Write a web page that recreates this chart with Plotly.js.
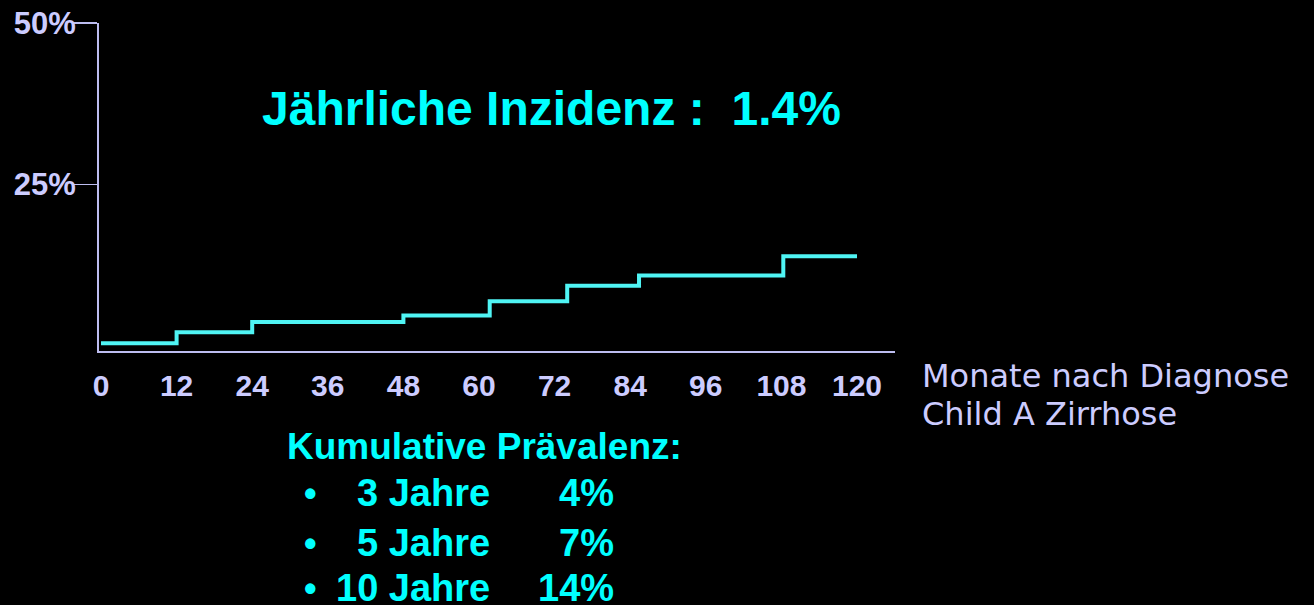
<!DOCTYPE html>
<html>
<head>
<meta charset="utf-8">
<script src="https://cdn.plot.ly/plotly-3.0.1.min.js"></script>
<style>
  html, body { margin: 0; padding: 0; background: #000; }
  #chart { width: 1314px; height: 605px; }
</style>
</head>
<body>
<div id="chart"></div>
<script>
// ---- data ----
const months = [0, 12, 24, 48, 61.7, 74, 85.4, 108.3, 120];
const incidencePct = [0.4, 2.1, 3.7, 4.7, 6.9, 9.3, 10.9, 13.9, 13.9];
const xTickVals = [0, 12, 24, 36, 48, 60, 72, 84, 96, 108, 120];
const xTickText = ['0', '12', '24', '36', '48', '60', '72', '84', '96', '108', '120'];
const yTickVals = [25, 50];
const yTickText = ['25%', '50%'];
const titleText = 'Jährliche Inzidenz :\u00a0 1.4%';
const xAxisLabel = ['Monate nach Diagnose', 'Child A Zirrhose'];
const summaryHeader = 'Kumulative Prävalenz:';
const summaryYears = ['3 Jahre', '5 Jahre', '10 Jahre'];
const summaryPrev = ['4%', '7%', '14%'];

// ---- layout geometry ----
const W = 1314, H = 605;
const M = { l: 99, r: 419, t: 23, b: 254 };
const PW = W - M.l - M.r, PH = H - M.t - M.b;
const px = x => (x - M.l) / PW;
const py = y => (H - M.b - y) / PH;

const lav = '#ccccff';
const lavLine = '#bdbdf0';
const cyan = '#00ffff';
const boldFont = '"Liberation Sans", Arial, sans-serif';

const trace = {
  x: months,
  y: incidencePct,
  type: 'scatter',
  mode: 'lines',
  line: { shape: 'hv', color: '#4ff4f4', width: 4 },
  hoverinfo: 'skip'
};

function ann(text, x, y, opts) {
  return Object.assign({
    text: text, xref: 'paper', yref: 'paper', x: px(x), y: py(y),
    showarrow: false, xanchor: 'left', yanchor: 'middle',
    borderpad: 0, borderwidth: 0,
    font: { family: boldFont, size: 38, color: cyan, weight: 'bold' }
  }, opts || {});
}

const annotations = [
  ann(titleText, 262, 108, { font: { family: boldFont, size: 48, color: cyan, weight: 'bold' } }),
  ann(xAxisLabel[0], 922, 376, { font: { family: '"DejaVu Sans", sans-serif', size: 32, color: lav } }),
  ann(xAxisLabel[1], 922, 414, { font: { family: '"DejaVu Sans", sans-serif', size: 32, color: lav } }),
  ann(summaryHeader, 287, 446, { font: { family: boldFont, size: 37, color: cyan, weight: 'bold' } })
];
const rowY = [493, 543, 588];
summaryYears.forEach((t, i) => {
  annotations.push(ann('\u2022', 304, rowY[i], { font: { family: boldFont, size: 36, color: cyan, weight: 'bold' } }));
  annotations.push(ann(t, 490, rowY[i], { xanchor: 'right' }));
  annotations.push(ann(summaryPrev[i], 614, rowY[i], { xanchor: 'right' }));
});

const layout = {
  width: W, height: H,
  margin: M,
  paper_bgcolor: '#000',
  plot_bgcolor: '#000',
  showlegend: false,
  xaxis: {
    range: [-0.317, 126.03],
    tickmode: 'array', tickvals: xTickVals, ticktext: xTickText,
    ticks: '', showgrid: false, zeroline: false,
    showline: true, linecolor: lavLine, linewidth: 2,
    tickfont: { family: boldFont, size: 30, color: lav, weight: 'bold' },
    ticklabelstandoff: 7,
    fixedrange: true
  },
  yaxis: {
    range: [-0.79, 50],
    tickmode: 'array', tickvals: yTickVals, ticktext: yTickText,
    ticks: 'outside', ticklen: 24, tickwidth: 1.5, tickcolor: lavLine,
    showgrid: false, zeroline: false,
    showline: true, linecolor: lavLine, linewidth: 2,
    tickfont: { family: boldFont, size: 31, color: lav, weight: 'bold' },
    ticklabelstandoff: -9,
    fixedrange: true
  },
  annotations: annotations
};

Plotly.newPlot('chart', [trace], layout, { displayModeBar: false, staticPlot: true });
</script>
</body>
</html>
